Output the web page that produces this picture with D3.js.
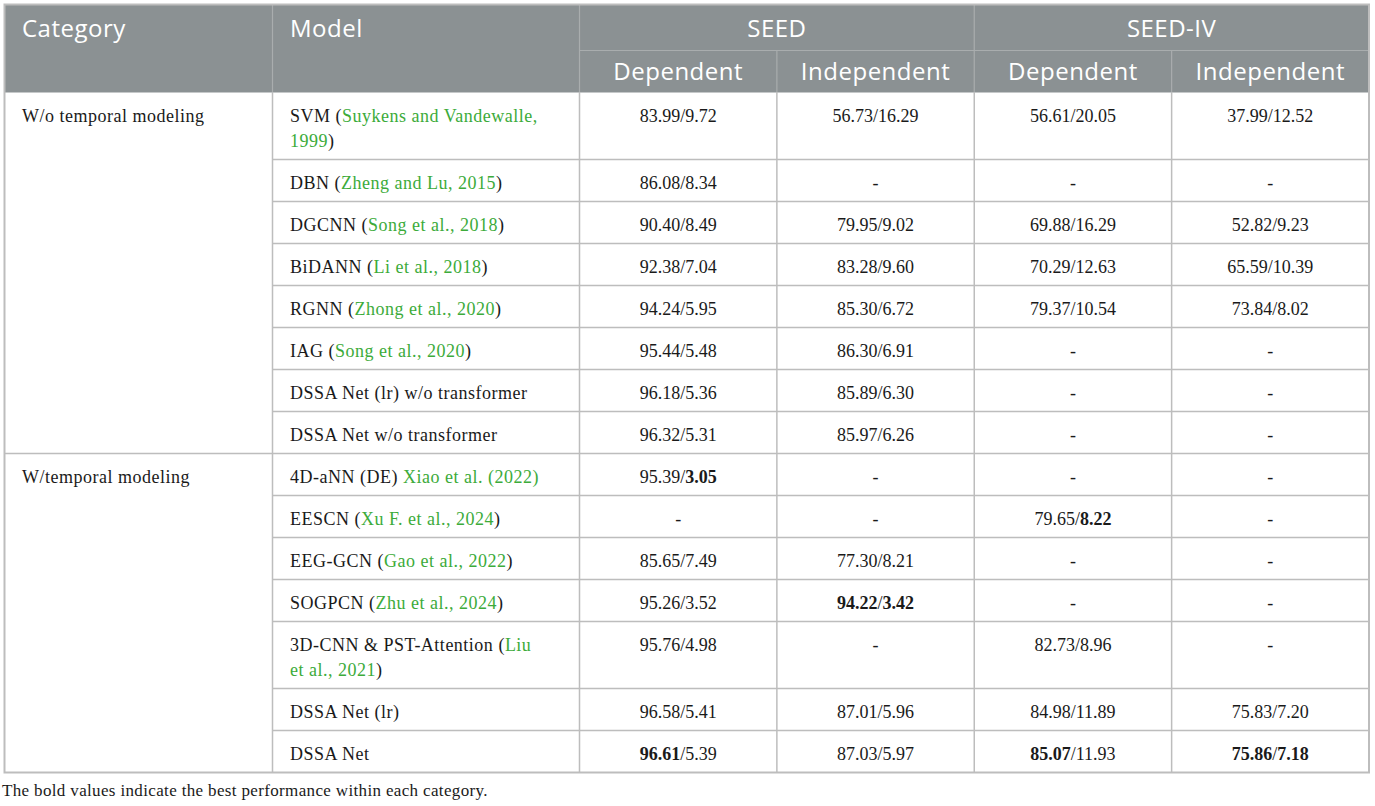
<!DOCTYPE html>
<html>
<head>
<meta charset="utf-8">
<script src="https://cdn.jsdelivr.net/npm/d3@7"></script>
<style>
  html, body { margin: 0; padding: 0; background: #fff; }
  svg { display: block; }
</style>
</head>
<body>
<div id="table"></div>
<script>
// table content
const categories = ["W/o temporal modeling", "W/temporal modeling"];
const categoryRows = [8, 7];

const models = ["SVM", "DBN", "DGCNN", "BiDANN", "RGNN", "IAG",
    "DSSA Net (lr) w/o transformer", "DSSA Net w/o transformer",
    "4D-aNN (DE)", "EESCN", "EEG-GCN", "SOGPCN", "3D-CNN & PST-Attention",
    "DSSA Net (lr)", "DSSA Net"];
const citations = ["Suykens and Vandewalle, 1999", "Zheng and Lu, 2015", "Song et al., 2018",
    "Li et al., 2018", "Zhong et al., 2020", "Song et al., 2020", "", "",
    "Xiao et al. (2022)", "Xu F. et al., 2024", "Gao et al., 2022", "Zhu et al., 2024",
    "Liu et al., 2021", "", ""];

const datasets = ["SEED", "SEED-IV"];
const settings = ["Dependent", "Independent"];

const seedDep = ["83.99/9.72", "86.08/8.34", "90.40/8.49", "92.38/7.04", "94.24/5.95", "95.44/5.48",
    "96.18/5.36", "96.32/5.31", "95.39/3.05", "-", "85.65/7.49", "95.26/3.52", "95.76/4.98",
    "96.58/5.41", "96.61/5.39"];
const seedIndep = ["56.73/16.29", "-", "79.95/9.02", "83.28/9.60", "85.30/6.72", "86.30/6.91",
    "85.89/6.30", "85.97/6.26", "-", "-", "77.30/8.21", "94.22/3.42", "-",
    "87.01/5.96", "87.03/5.97"];
const seed4Dep = ["56.61/20.05", "-", "69.88/16.29", "70.29/12.63", "79.37/10.54", "-",
    "-", "-", "-", "79.65/8.22", "-", "-", "82.73/8.96", "84.98/11.89", "85.07/11.93"];
const seed4Indep = ["37.99/12.52", "-", "52.82/9.23", "65.59/10.39", "73.84/8.02", "-",
    "-", "-", "-", "-", "-", "-", "-", "75.83/7.20", "75.86/7.18"];

// [row, column, which part is bold]
const boldMarks = [[8, 0, "std"], [9, 2, "std"], [11, 1, "both"],
    [14, 0, "acc"], [14, 2, "acc"], [14, 3, "both"]];

const footnote = "The bold values indicate the best performance within each category.";

const W = 1375, H = 806;
const tLeft = 4.5, tRight = 1369, tTop = 4.5, headBottom = 92.5, subLine = 50.5;
const catRight = 272.5, modelRight = 579.5;
const headFill = '#8b9193', lineColor = '#bdbdbd', green = '#3cab3a';
const headFont = "'Open Sans', sans-serif", bodyFont = "'Liberation Serif', 'Times New Roman', serif";
const textSpacing = 0.5;

const valueCols = [seedDep, seedIndep, seed4Dep, seed4Indep];
const colKeys = d3.range(valueCols.length);

const x = d3.scaleBand().domain(colKeys).range([modelRight, tRight]);

const svg = d3.select('#table').append('svg')
    .attr('width', W)
    .attr('height', H);

// measure + wrap model cells
const measurer = svg.append('text')
    .attr('font-family', bodyFont)
    .attr('font-size', 18)
    .attr('letter-spacing', textSpacing)
    .attr('visibility', 'hidden');
const measure = s => measurer.text(s).node().getComputedTextLength();

const maxWidth = 252;
const modelLines = models.map((m, i) => {
    const c = citations[i];
    let parts;
    if (!c) parts = [{ t: m, g: false }];
    else if (c.includes('(')) parts = [{ t: m + ' ', g: false }, { t: c, g: true }];
    else parts = [{ t: m + ' (', g: false }, { t: c, g: true }, { t: ')', g: false }];
    // split into words keeping colour
    const words = [];
    parts.forEach(p => {
        p.t.split(/(?<= )/).forEach(w => {
            if (w === '') return;
            const last = words[words.length - 1];
            if (last && !last.full.endsWith(' ')) {
                last.full += w;
                last.pieces.push({ t: w, g: p.g });
            } else {
                words.push({ full: w, pieces: [{ t: w, g: p.g }] });
            }
        });
    });
    const lines = [];
    let cur = [], curText = '';
    words.forEach(w => {
        const tryText = curText + w.full;
        if (cur.length && measure(tryText.trimEnd()) > maxWidth) {
            lines.push(cur);
            cur = [w];
            curText = w.full;
        } else {
            cur.push(w);
            curText = tryText;
        }
    });
    lines.push(cur);
    return lines;
});
measurer.remove();

const rowHeights = modelLines.map(l => 17 + 25 * l.length);
const rowTops = [];
rowHeights.reduce((acc, h) => { rowTops.push(acc); return acc + h; }, headBottom);
const tableBottom = rowTops[rowTops.length - 1] + rowHeights[rowHeights.length - 1];

// header
svg.append('rect')
    .attr('x', tLeft).attr('y', tTop)
    .attr('width', tRight - tLeft).attr('height', headBottom - tTop)
    .attr('fill', headFill);

const headLines = svg.append('g').attr('stroke', '#a9adae').attr('stroke-width', 1.2);
headLines.selectAll('line.v')
    .data([catRight, modelRight, x(2)])
    .join('line')
    .attr('x1', d => d).attr('x2', d => d)
    .attr('y1', tTop).attr('y2', headBottom);
headLines.selectAll('line.sv')
    .data([x(1), x(3)])
    .join('line')
    .attr('x1', d => d).attr('x2', d => d)
    .attr('y1', subLine).attr('y2', headBottom);
headLines.append('line')
    .attr('x1', modelRight).attr('x2', tRight)
    .attr('y1', subLine).attr('y2', subLine);

const headText = svg.append('g')
    .attr('fill', '#fff')
    .attr('font-family', headFont)
    .attr('font-size', 24)
    .attr('letter-spacing', 0.5);
headText.append('text').attr('x', 22).attr('y', 37).text('Category');
headText.append('text').attr('x', 290).attr('y', 37).text('Model');
headText.selectAll('text.ds')
    .data(datasets)
    .join('text')
    .attr('class', 'ds')
    .attr('x', (d, i) => x(i * 2) + x.bandwidth())
    .attr('y', 37)
    .attr('text-anchor', 'middle')
    .text(d => d);
headText.selectAll('text.st')
    .data(colKeys)
    .join('text')
    .attr('class', 'st')
    .attr('x', d => x(d) + x.bandwidth() / 2)
    .attr('y', 80)
    .attr('text-anchor', 'middle')
    .text(d => settings[d % 2]);

// body grid
const grid = svg.append('g').attr('stroke', lineColor).attr('stroke-width', 1.5).attr('fill', 'none');
// category separators (full width)
const catStarts = [];
categoryRows.reduce((acc, n) => { catStarts.push(acc); return acc + n; }, 0);
grid.selectAll('line.cat')
    .data(catStarts.slice(1))
    .join('line')
    .attr('x1', tLeft).attr('x2', tRight)
    .attr('y1', d => rowTops[d]).attr('y2', d => rowTops[d]);
// row separators (from model column)
grid.selectAll('line.row')
    .data(d3.range(1, models.length).filter(r => !catStarts.includes(r)))
    .join('line')
    .attr('x1', catRight).attr('x2', tRight)
    .attr('y1', d => rowTops[d]).attr('y2', d => rowTops[d]);
grid.selectAll('line.col')
    .data([catRight, ...colKeys.map(k => x(k))])
    .join('line')
    .attr('x1', d => d).attr('x2', d => d)
    .attr('y1', headBottom).attr('y2', tableBottom);
grid.append('rect')
    .attr('x', tLeft).attr('y', tTop)
    .attr('width', tRight - tLeft).attr('height', tableBottom - tTop)
    .attr('stroke-width', 2);

// body text
const body = svg.append('g')
    .attr('font-family', bodyFont)
    .attr('font-size', 18)
    .attr('fill', '#1a1a1a');

body.selectAll('text.cat')
    .data(categories)
    .join('text')
    .attr('x', 22)
    .attr('y', (d, i) => rowTops[catStarts[i]] + 29.5)
    .attr('letter-spacing', textSpacing)
    .text(d => d);

models.forEach((m, i) => {
    modelLines[i].forEach((line, li) => {
        const t = body.append('text')
            .attr('x', 290)
            .attr('y', rowTops[i] + 29.5 + li * 24.5)
            .attr('letter-spacing', textSpacing)
            .attr('xml:space', 'preserve');
        const pieces = line.flatMap(w => w.pieces);
        pieces.forEach((p, pi) => {
            t.append('tspan')
                .attr('fill', p.g ? green : null)
                .text(pi === pieces.length - 1 ? p.t.trimEnd() : p.t);
        });
    });
});

const isBold = (r, c, part) => boldMarks.some(b => b[0] === r && b[1] === c && (b[2] === part || b[2] === 'both'));

valueCols.forEach((col, c) => {
    col.forEach((v, r) => {
        const t = body.append('text')
            .attr('x', x(c) + x.bandwidth() / 2)
            .attr('y', rowTops[r] + 29.5)
            .attr('text-anchor', 'middle');
        if (v === '-') { t.text('-'); return; }
        const [acc, std] = v.split('/');
        t.append('tspan').attr('font-weight', isBold(r, c, 'acc') ? 'bold' : null).text(acc);
        t.append('tspan').text('/');
        t.append('tspan').attr('font-weight', isBold(r, c, 'std') ? 'bold' : null).text(std);
    });
});

svg.append('text')
    .attr('x', 2)
    .attr('y', 795.5)
    .attr('font-family', bodyFont)
    .attr('font-size', 17)
    .attr('letter-spacing', 0.35)
    .attr('fill', '#1a1a1a')
    .text(footnote);
</script>
</body>
</html>
